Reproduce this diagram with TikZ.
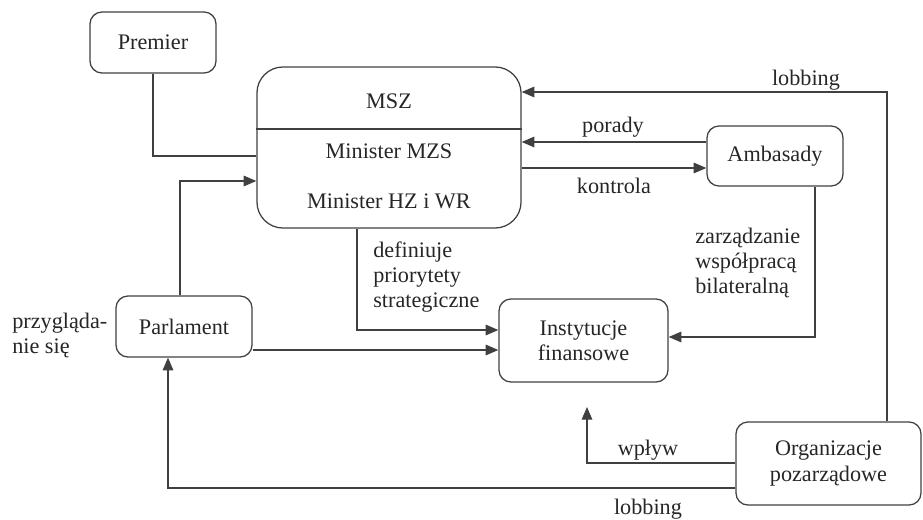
\documentclass[tikz,border=0pt]{standalone}
\usepackage{fontspec}
\setmainfont{Liberation Serif}
\usetikzlibrary{arrows.meta, positioning, calc}

\begin{document}
\begin{tikzpicture}[
    x=0.025cm, y=-0.025cm,
    every node/.style={font=\fontsize{15.8}{18}\selectfont, text=black!85},
    box/.style={rectangle, draw=black!75, line width=0.9pt, rounded corners=0.3cm, align=center},
    line/.style={draw=black!75, line width=0.9pt},
    arrow/.style={line, -{Triangle[length=9pt, width=7.5pt]}},
    lbl/.style={inner sep=0pt, align=left}
]
    \useasboundingbox (0,0) rectangle (923,520);

    % Boxes
    \node[box, minimum width=3.15cm, minimum height=1.525cm] (premier) at (153,42.5) {Premier};
    \node[box, rounded corners=0.65cm, minimum width=6.6cm, minimum height=4.025cm] (msz) at (389,147.5) {};
    \node[box, minimum width=3.4cm, minimum height=1.5cm] (ambasady) at (775,156) {Ambasady};
    \node[box, minimum width=4.225cm, minimum height=2.075cm] (instytucje) at (583.5,340.5) {Instytucje\\finansowe};
    \node[box, minimum width=3.4cm, minimum height=1.525cm] (parlament) at (184,326.5) {Parlament};
    \node[box, minimum width=4.625cm, minimum height=2.075cm] (organizacje) at (828.5,463.5) {Organizacje\\pozarządowe};

    % Inside MSZ
    \draw[line] (msz.west |- 0,129) -- (msz.east |- 0,129);
    \node[anchor=base] (mszname) at (389,108) {MSZ};
    \node[anchor=base] (mzs) at (389,158) {Minister MZS};
    \node[anchor=base] (hzwr) at (389,208) {Minister HZ i WR};

    % Arrows
    \coordinate (wplywend) at (587,407);
    \draw[line] (premier.south) |- (msz.west |- 0,156);
    \draw[arrow] (parlament.north -| 180,0) |- (msz.west |- 0,181);
    \draw[arrow] (organizacje.north -| 887,0) |- (msz.east |- 0,92);
    \draw[arrow] (ambasady.west |- 0,142) -- (msz.east |- 0,142);
    \draw[arrow] (msz.east |- 0,168) -- (ambasady.west |- 0,168);
    \draw[arrow] (ambasady.south -| 815,0) |- (instytucje.east |- 0,337);
    \draw[arrow] (msz.south -| 357,0) |- (instytucje.west |- 0,330);
    \draw[arrow] (parlament.east |- 0,350) -- (instytucje.west |- 0,350);
    \draw[arrow] (organizacje.west |- 0,488) -| (parlament.south -| 168,0);
    \draw[arrow] (organizacje.west |- 0,463) -| (wplywend);

    % Labels
    \node[lbl, anchor=base] (lobbingtop) at (806,85) {lobbing};
    \node[lbl, anchor=base] (porady) at (613,132) {porady};
    \node[lbl, anchor=base] (kontrola) at (614,193) {kontrola};
    \node[lbl, anchor=west] (definiuje) at (373,277) {definiuje\\priorytety\\strategiczne};
    \node[lbl, anchor=west] (zarzadzanie) at (695,263) {zarządzanie\\współpracą\\bilateralną};
    \node[lbl, anchor=west] (przygladanie) at (12,335.5) {przygląda-\\nie się};
    \node[lbl, anchor=base] (wplyw) at (648,455) {wpływ};
    \node[lbl, anchor=base] (lobbingbottom) at (648,514) {lobbing};
\end{tikzpicture}
\end{document}
